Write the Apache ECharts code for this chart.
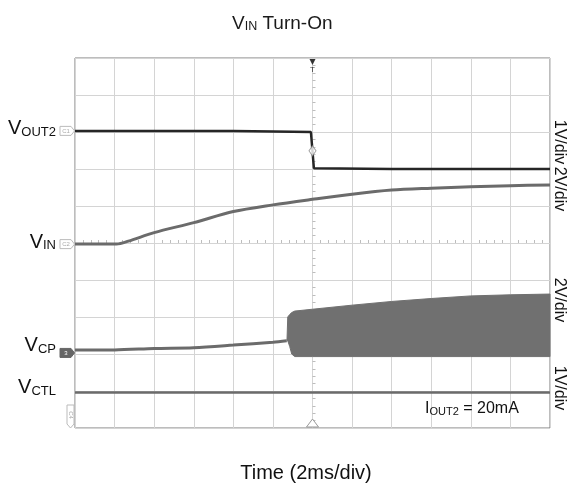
<!DOCTYPE html>
<html>
<head>
<meta charset="utf-8">
<script src="https://cdn.jsdelivr.net/npm/echarts@6/dist/echarts.min.js"></script>
<style>
  html, body { margin: 0; padding: 0; background: #fff; }
  #c { width: 572px; height: 488px; }
</style>
</head>
<body>
<div id="c"></div>
<script>
// ---- Data (time in ms relative to trigger, level in screen divisions from bottom) ----
const xTicksMs = [-12, -10, -8, -6, -4, -2, 0, 2, 4, 6, 8, 10, 12];
const rightLabels = ['1V/div', '2V/div', '2V/div', '1V/div'];

const vout2T = [-12, -8, -4, -1, -0.08, 0.07, 4, 8, 12];
const vout2D = [8.03, 8.03, 8.03, 8.01, 8.0, 7.02, 7.0, 7.0, 7.0];

const vinT = [-12, -9.9, -9.3, -8, -6, -4, -2, 0, 2, 4, 6, 8, 10, 12];
const vinD = [4.97, 4.97, 5.05, 5.28, 5.55, 5.85, 6.03, 6.18, 6.32, 6.43, 6.48, 6.52, 6.55, 6.57];

const vcpT = [-12, -10, -8, -6, -4, -2, -1.3];
const vcpD = [2.11, 2.11, 2.15, 2.17, 2.24, 2.32, 2.36];

const bandT  = [-1.29, -1.25, -1.15, -1.05, -0.9, 0, 2, 4, 6, 8, 10, 12];
const bandLo = [2.36, 2.36, 2.2, 2.0, 1.93, 1.93, 1.93, 1.93, 1.93, 1.93, 1.93, 1.93];
const bandHi = [2.36, 3.0, 3.07, 3.12, 3.16, 3.21, 3.32, 3.42, 3.5, 3.57, 3.6, 3.62];

const vctlT = [-12, -6, 0, 6, 12];
const vctlD = [0.96, 0.96, 0.96, 0.96, 0.96];

const markerT = [0];
const markerD = [7.49];

// ---- Build ----
const zip = (a, b) => a.map((v, i) => [v, b[i]]);
const FONT = 'Liberation Sans, Arial, Helvetica, sans-serif';
const TRACE = '#6b6b6b';

const chart = echarts.init(document.getElementById('c'), null, { renderer: 'canvas' });

const gridLine = { show: true, lineStyle: { color: '#d4d4d4', width: 1 } };

chart.setOption({
  animation: false,
  backgroundColor: '#fff',
  title: {
    text: '{v|V}{s|IN}{t| Turn-On}',
    left: 227, top: 9,
    textStyle: {
      fontFamily: FONT, fontWeight: 'normal',
      rich: {
        v: { fontSize: 19, color: '#1a1a1a', fontFamily: FONT, fontWeight: 'normal', lineHeight: 19, verticalAlign: 'bottom' },
        s: { fontSize: 12.5, color: '#1a1a1a', fontFamily: FONT, fontWeight: 'normal', lineHeight: 8, verticalAlign: 'bottom' },
        t: { fontSize: 19, color: '#1a1a1a', fontFamily: FONT, fontWeight: 'normal', lineHeight: 19, verticalAlign: 'bottom' }
      }
    }
  },
  grid: { left: 75, right: 22, top: 58, bottom: 60, show: true, borderColor: '#7a7a7a', borderWidth: 1, outerBoundsMode: 'none' },
  xAxis: [
    { type: 'value', min: xTicksMs[0], max: xTicksMs[xTicksMs.length - 1], interval: 2,
      axisLine: { show: false }, axisTick: { show: false }, axisLabel: { show: false }, splitLine: gridLine },
    { type: 'value', min: xTicksMs[0], max: xTicksMs[xTicksMs.length - 1], interval: 2, offset: -185,
      axisLine: { show: false }, axisTick: { show: false }, axisLabel: { show: false }, splitLine: { show: false },
      minorTick: { show: true, splitNumber: 5, length: 3, lineStyle: { color: '#bdbdbd' } } }
  ],
  yAxis: [
    { type: 'value', min: 0, max: 10, interval: 1,
      axisLine: { show: false }, axisTick: { show: false }, axisLabel: { show: false }, splitLine: gridLine },
    { type: 'value', min: 0, max: 10, interval: 1, offset: -237.5,
      axisLine: { show: false }, axisTick: { show: false }, axisLabel: { show: false }, splitLine: { show: false },
      minorTick: { show: true, splitNumber: 5, length: 3, lineStyle: { color: '#bdbdbd' } } }
  ],
  series: [
    { name: 'VCTL', type: 'line', data: zip(vctlT, vctlD), showSymbol: false, lineStyle: { color: TRACE, width: 2.5 }, z: 3 },
    { name: 'VCP', type: 'line', data: zip(vcpT, vcpD), showSymbol: false, smooth: 0.3,
      lineStyle: { color: TRACE, width: 3 }, z: 3 },
    { name: 'VCP band', type: 'custom', xAxisIndex: 0, yAxisIndex: 0,
      data: bandT.map((t, i) => [t, bandLo[i], bandHi[i]]),
      encode: { x: 0, y: [1, 2] },
      renderItem: function (params, api) {
        if (params.dataIndex !== 0) return null;
        const top = bandT.map((t, i) => api.coord([t, bandHi[i]]));
        const bot = bandT.map((t, i) => api.coord([t, bandLo[i]])).reverse();
        return { type: 'polygon', shape: { points: top.concat(bot), smooth: 0 },
          style: { fill: '#707070', stroke: '#707070', lineWidth: 1 } };
      }, z: 3 },
    { name: 'VIN', type: 'line', data: zip(vinT, vinD), showSymbol: false, smooth: 0.3,
      lineStyle: { color: TRACE, width: 3 }, z: 4 },
    { name: 'VOUT2', type: 'line', data: zip(vout2T, vout2D), showSymbol: false, lineStyle: { color: '#262626', width: 2.5 }, z: 5 },
    { name: 'marker', type: 'scatter', data: zip(markerT, markerD), symbol: 'diamond', symbolSize: [7, 10],
      itemStyle: { color: '#fff', borderColor: '#8a8a8a', borderWidth: 1 }, z: 6 }
  ]
});

// ---- Annotations positioned through the chart's own scales ----
const px = (t, d) => chart.convertToPixel({ xAxisIndex: 0, yAxisIndex: 0 }, [t, d]);
const leftX = px(xTicksMs[0], 0)[0];
const rightX = px(xTicksMs[xTicksMs.length - 1], 0)[0];
const yTop = px(0, 10)[1];
const yBot = px(0, 0)[1];
const xMid = px(0, 0)[0];

function subLabel(main, sub, x, baseY, size, subSize, align) {
  return {
    type: 'text', x: x, y: baseY, z: 10,
    style: {
      text: '{v|' + main + '}{s|' + sub + '}',
      align: align, verticalAlign: 'bottom',
      rich: {
        v: { fontSize: size, fontFamily: FONT, fill: '#111', lineHeight: size, verticalAlign: 'bottom' },
        s: { fontSize: subSize, fontFamily: FONT, fill: '#111', lineHeight: 8, verticalAlign: 'bottom' }
      }
    }
  };
}

function tag(y, label, filled) {
  const x0 = leftX - 15;
  return {
    type: 'group', z: 10,
    children: [
      { type: 'polygon', shape: { points: [[x0, y - 4.5], [x0 + 11, y - 4.5], [x0 + 14.5, y], [x0 + 11, y + 4.5], [x0, y + 4.5]] },
        style: { fill: filled ? '#666' : '#fff', stroke: filled ? '#666' : '#bbb', lineWidth: 1 } },
      { type: 'text', x: x0 + 6, y: y, style: { text: label, fontSize: 6, fontFamily: FONT, fill: filled ? '#fff' : '#aaa', align: 'center', verticalAlign: 'middle' } }
    ]
  };
}

const yOut = px(0, vout2D[0])[1];
const yIn = px(0, vinD[0])[1];
const yCp = px(0, vcpD[0])[1];
const yCtl = px(0, vctlD[0])[1];

const graphics = [
  subLabel('V', 'OUT2', 56, yOut + 8, 20, 13, 'right'),
  subLabel('V', 'IN', 56, yIn + 8, 20, 13, 'right'),
  subLabel('V', 'CP', 56, yCp + 6, 20, 13, 'right'),
  subLabel('V', 'CTL', 56, yCtl + 5, 20, 13, 'right'),
  tag(yOut, 'C1', false),
  tag(yIn, 'C2', false),
  tag(yCp + 3, '3', true),
  { type: 'group', z: 10, children: [
      { type: 'polygon', shape: { points: [[leftX - 8, yBot - 23], [leftX - 1, yBot - 23], [leftX - 1, yBot - 4], [leftX - 4.5, yBot], [leftX - 8, yBot - 4]] },
        style: { fill: '#fff', stroke: '#bbb', lineWidth: 1 } },
      { type: 'text', x: leftX - 4.5, y: yBot - 13, rotation: -Math.PI / 2,
        style: { text: 'C4', fontSize: 6, fontFamily: FONT, fill: '#aaa', align: 'center', verticalAlign: 'middle' } }
  ] },
  // trigger markers
  { type: 'polygon', z: 10, shape: { points: [[xMid - 3, yTop + 1], [xMid + 3, yTop + 1], [xMid, yTop + 7]] }, style: { fill: '#333' } },
  { type: 'text', z: 10, x: xMid, y: yTop + 12, style: { text: 'T', fontSize: 8, fontFamily: FONT, fill: '#333', align: 'center', verticalAlign: 'middle' } },
  { type: 'polygon', z: 10, shape: { points: [[xMid - 6, yBot - 1], [xMid + 6, yBot - 1], [xMid, yBot - 9]] }, style: { fill: '#fff', stroke: '#999', lineWidth: 1 } },
  // x axis title
  { type: 'text', z: 10, x: 306, y: 473, style: { text: 'Time (2ms/div)', fontSize: 20, fontFamily: FONT, fill: '#111', align: 'center', verticalAlign: 'middle' } },
  // IOUT2 note
  { type: 'text', z: 10, x: 425, y: 417, style: {
      text: '{v|I}{s|OUT2}{v| = 20mA}', align: 'left', verticalAlign: 'bottom',
      rich: {
        v: { fontSize: 16, fontFamily: FONT, fill: '#111', lineHeight: 16, verticalAlign: 'bottom' },
        s: { fontSize: 11, fontFamily: FONT, fill: '#111', lineHeight: 7, verticalAlign: 'bottom' }
      } } }
];

const rightCenters = [142, 189, 300, 388];
rightLabels.forEach((txt, i) => {
  graphics.push({ type: 'text', z: 10, x: rightX + 9, y: rightCenters[i], rotation: -Math.PI / 2,
    style: { text: txt, fontSize: 16, fontFamily: FONT, fill: '#111', align: 'center', verticalAlign: 'middle' } });
});

chart.setOption({ graphic: graphics });
</script>
</body>
</html>
